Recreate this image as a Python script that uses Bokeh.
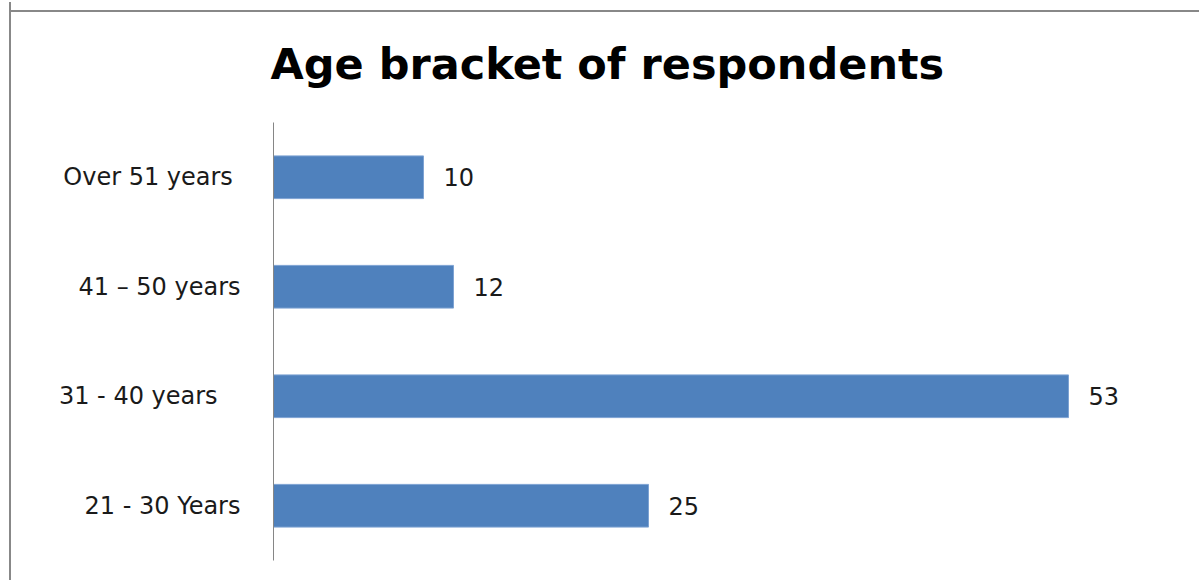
from bokeh.plotting import figure
from bokeh.models import ColumnDataSource, FactorRange, Range1d, Title
from bokeh.core.properties import value
from bokeh.embed import file_html
from bokeh.resources import INLINE

categories = ["21 - 30 Years", "31 - 40 years\u00a0\u00a0\u00a0", "41 \u2013 50 years", "Over 51 years\u00a0"]
counts = [25, 53, 12, 10]
count_labels = ["25", "53", "12", "10"]

FONT = "DejaVu Sans"

src = ColumnDataSource(dict(cat=categories, val=counts, lab=count_labels))

p = figure(width=1190, height=578, output_backend="svg", toolbar_location=None,
           y_range=FactorRange(*categories, range_padding=0), x_range=Range1d(0, 60),
           min_border_left=262, min_border_right=28, min_border_top=120, min_border_bottom=20)

p.background_fill_color = None
p.border_fill_color = None
p.styles = {"margin-left": "9px", "margin-top": "2px",
            "border-left": "2px solid #888888",
            "background": "linear-gradient(#888888, #888888) 0px 8px / 100% 2px no-repeat, #ffffff"}

p.hbar(y="cat", right="val", left=0, height=0.39, source=src,
       fill_color="#4F81BD", line_color="#7EA3D3", line_width=1)
p.text(x="val", y="cat", text="lab", source=src, x_offset=20,
       text_baseline="middle", text_align="left", text_font=value(FONT),
       text_font_size="24px", text_color="#1a1a1a")

title = Title(text="Age bracket of respondents", text_font=FONT, text_font_size="43px",
              text_font_style="bold", text_color="#000000", align="left", offset=-3, standoff=68)
p.add_layout(title, "above")

p.xaxis.visible = False
p.xgrid.visible = False
p.ygrid.visible = False
p.outline_line_color = None

ax = p.yaxis[0]
ax.axis_line_color = "#868686"
ax.axis_line_width = 1
ax.major_tick_line_color = None
ax.minor_tick_line_color = None
ax.major_label_standoff = 27
ax.major_label_text_font = FONT
ax.major_label_text_font_size = "24px"
ax.major_label_text_color = "#1a1a1a"

open("out.html", "w").write(file_html(p, INLINE))
